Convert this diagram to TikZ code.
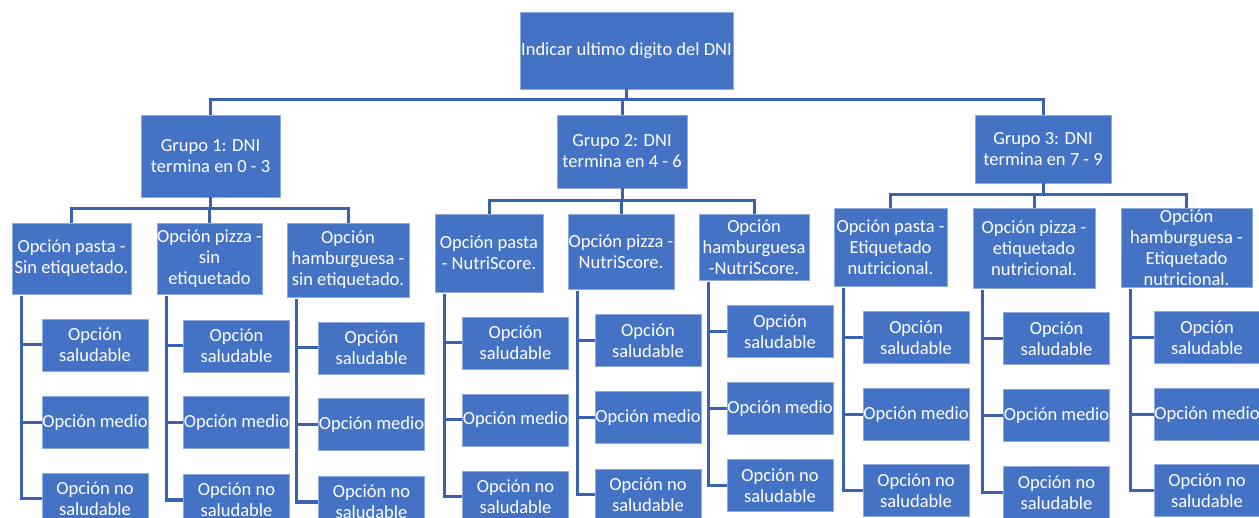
\documentclass[tikz,border=0pt]{standalone}
\usepackage{fontspec}
\setmainfont{Carlito}
\definecolor{boxblue}{HTML}{4472C4}
\definecolor{boxedge}{HTML}{8FAADC}
\definecolor{linkblue}{HTML}{3A62AE}
\tikzset{
  box/.style={fill=boxblue, draw=boxedge, line width=0.7pt, text=white, align=center,
    inner sep=0pt, font=\fontsize{18.5}{21}\selectfont},
  leaf/.style={box, minimum width=106pt, minimum height=52pt},
  link/.style={draw=linkblue, line width=3pt},
}
\begin{document}
\begin{tikzpicture}[x=1pt,y=-1pt]
\clip (0,0) rectangle (1259,518);
\fill[white] (0,0) rectangle (1259,518);
% coordinates of the buses
\coordinate (bus0) at (0,100);
\coordinate (bus1) at (0,209);
\coordinate (bus2) at (0,201);
\coordinate (bus3) at (0,195);

% top levels
\node[box, minimum width=213pt, minimum height=77pt] (root) at (626.5,50.5) {Indicar ultimo digito del DNI};
\node[box, minimum width=139pt, minimum height=82pt] (g1) at (210.5,156) {Grupo 1: DNI\\termina en 0 - 3};
\node[box, minimum width=130pt, minimum height=73pt] (g2) at (622,151.5) {Grupo 2: DNI\\termina en 4 - 6};
\node[box, minimum width=136pt, minimum height=68pt] (g3) at (1043,149) {Grupo 3: DNI\\termina en 7 - 9};

% second level
\node[box, minimum width=119pt, minimum height=71pt] (p1) at (71.5,258.5) {Opción pasta -\\Sin etiquetado.};
\node[box, minimum width=105pt, minimum height=71pt] (z1) at (209.5,258.5) {Opción pizza -\\sin\\etiquetado};
\node[box, minimum width=122pt, minimum height=74pt] (h1) at (348,260) {Opción\\hamburguesa -\\sin etiquetado.};
\node[box, minimum width=108pt, minimum height=78pt] (p2) at (489,253) {Opción pasta\\- NutriScore.};
\node[box, minimum width=106pt, minimum height=75pt] (z2) at (621,251.5) {Opción pizza -\\NutriScore.};
\node[box, minimum width=110pt, minimum height=66pt] (h2) at (754,247) {Opción\\hamburguesa\\-NutriScore.};
\node[box, minimum width=113pt, minimum height=78pt] (p3) at (890.5,247) {Opción pasta -\\Etiquetado\\nutricional.};
\node[box, minimum width=122pt, minimum height=80pt] (z3) at (1034,248) {Opción pizza -\\etiquetado\\nutricional.};
\node[box, minimum width=131pt, minimum height=79pt] (h3) at (1186.5,247.5) {Opción\\hamburguesa -\\Etiquetado\\nutricional.};

% third level
\node[leaf] (a1) at (95,345) {Opción\\saludable};
\node[leaf] (a2) at (95,422.5) {Opción medio};
\node[leaf] (a3) at (95,499) {Opción no\\saludable};
\node[leaf] (b1) at (236.5,346) {Opción\\saludable};
\node[leaf] (b2) at (236.5,422.5) {Opción medio};
\node[leaf] (b3) at (236.5,500) {Opción no\\saludable};
\node[leaf] (c1) at (371.5,348) {Opción\\saludable};
\node[leaf] (c2) at (371.5,424.5) {Opción medio};
\node[leaf] (c3) at (371.5,502) {Opción no\\saludable};
\node[leaf] (d1) at (515.5,343) {Opción\\saludable};
\node[leaf] (d2) at (515.5,420) {Opción medio};
\node[leaf] (d3) at (515.5,497) {Opción no\\saludable};
\node[leaf] (e1) at (648,340.5) {Opción\\saludable};
\node[leaf] (e2) at (648,417.5) {Opción medio};
\node[leaf] (e3) at (648,495) {Opción no\\saludable};
\node[leaf] (f1) at (780,331.5) {Opción\\saludable};
\node[leaf] (f2) at (780,408.5) {Opción medio};
\node[leaf] (f3) at (780,485.5) {Opción no\\saludable};
\node[leaf] (k1) at (916,337.5) {Opción\\saludable};
\node[leaf] (k2) at (916,414.5) {Opción medio};
\node[leaf] (k3) at (916,490.5) {Opción no\\saludable};
\node[leaf] (m1) at (1056.5,338.5) {Opción\\saludable};
\node[leaf] (m2) at (1056.5,415.5) {Opción medio};
\node[leaf] (m3) at (1056.5,492.5) {Opción no\\saludable};
\node[leaf] (n1) at (1207,337.5) {Opción\\saludable};
\node[leaf] (n2) at (1207,414.5) {Opción medio};
\node[leaf] (n3) at (1207,490.5) {Opción no\\saludable};

% connectors root -> groups
\foreach \g in {g1,g2,g3}
  \draw[link] (root.south) -- (root.south |- bus0) -| (\g.north);
% groups -> options
\foreach \c in {p1,z1,h1}
  \draw[link] (g1.south) -- (g1.south |- bus1) -| (\c.north);
\foreach \c in {p2,z2,h2}
  \draw[link] (g2.south) -- (g2.south |- bus2) -| (\c.north);
\foreach \c in {p3,z3,h3}
  \draw[link] (g3.south) -- (g3.south |- bus3) -| (\c.north);
% options -> leaves
\foreach \p/\l in {p1/a,z1/b,h1/c,p2/d,z2/e,h2/f,p3/k,z3/m,h3/n}
  \foreach \i in {1,2,3}
    \draw[link] ([xshift=10pt,yshift=-2pt]\p.south west) |- (\l\i.west);
\end{tikzpicture}
\end{document}
